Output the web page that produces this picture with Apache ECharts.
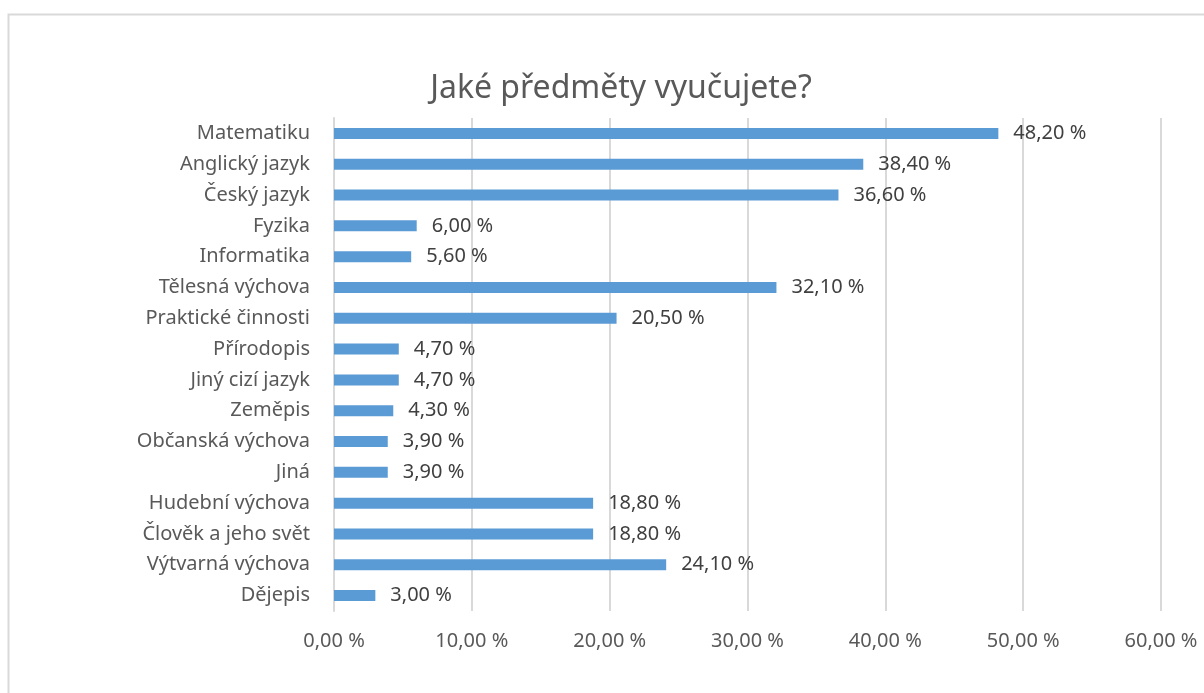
<!DOCTYPE html>
<html>
<head>
<meta charset="utf-8">
<script src="https://cdn.jsdelivr.net/npm/echarts@6/dist/echarts.min.js"></script>
<style>
  html, body { margin: 0; padding: 0; background: #fff; }
  #chart { width: 1204px; height: 693px; }
</style>
</head>
<body>
<div id="chart"></div>
<script>
// predmety, shora dolu
const categories = ['Matematiku', 'Anglický jazyk', 'Český jazyk', 'Fyzika', 'Informatika',
  'Tělesná výchova', 'Praktické činnosti', 'Přírodopis', 'Jiný cizí jazyk', 'Zeměpis',
  'Občanská výchova', 'Jiná', 'Hudební výchova', 'Člověk a jeho svět', 'Výtvarná výchova', 'Dějepis']
const values = [48.2, 38.4, 36.6, 6.0, 5.6, 32.1, 20.5, 4.7, 4.7, 4.3, 3.9, 3.9, 18.8, 18.8, 24.1, 3.0]

const fmt = v => v.toFixed(2).replace('.', ',') + ' %'
const font = 'Noto Sans'

const myChart = echarts.init(document.getElementById('chart'))
myChart.setOption({
  animation: false,
  graphic: [{
    type: 'rect',
    shape: { x: 8.5, y: 14.5, width: 1210, height: 700 },
    style: { fill: 'none', stroke: '#d9d9d9', lineWidth: 2 },
    silent: true
  }],
  title: {
    text: 'Jaké předměty vyučujete?',
    left: 616,
    top: 68,
    textAlign: 'center',
    textStyle: { fontFamily: font, fontSize: 32, fontWeight: 'normal', color: '#595959' }
  },
  grid: { left: 334, right: 43, top: 118, bottom: 82, containLabel: false },
  xAxis: {
    type: 'value',
    min: 0,
    max: 60,
    interval: 10,
    axisLine: { show: false },
    axisTick: { show: false },
    splitLine: { lineStyle: { color: '#d9d9d9', width: 2 } },
    axisLabel: {
      formatter: fmt,
      margin: 20,
      fontFamily: font,
      fontSize: 20,
      color: '#595959'
    }
  },
  yAxis: {
    type: 'category',
    data: categories,
    inverse: true,
    axisLine: { lineStyle: { color: '#d9d9d9', width: 2 } },
    axisTick: { show: false },
    axisLabel: { margin: 24, fontFamily: font, fontSize: 20, color: '#595959' }
  },
  series: [{
    type: 'bar',
    data: values,
    barWidth: 11,
    itemStyle: { color: '#5b9bd5' },
    label: {
      show: true,
      position: 'right',
      distance: 15,
      formatter: p => fmt(p.value),
      fontFamily: font,
      fontSize: 20,
      color: '#404040'
    }
  }]
})
window.addEventListener('resize', myChart.resize)
</script>
</body>
</html>
